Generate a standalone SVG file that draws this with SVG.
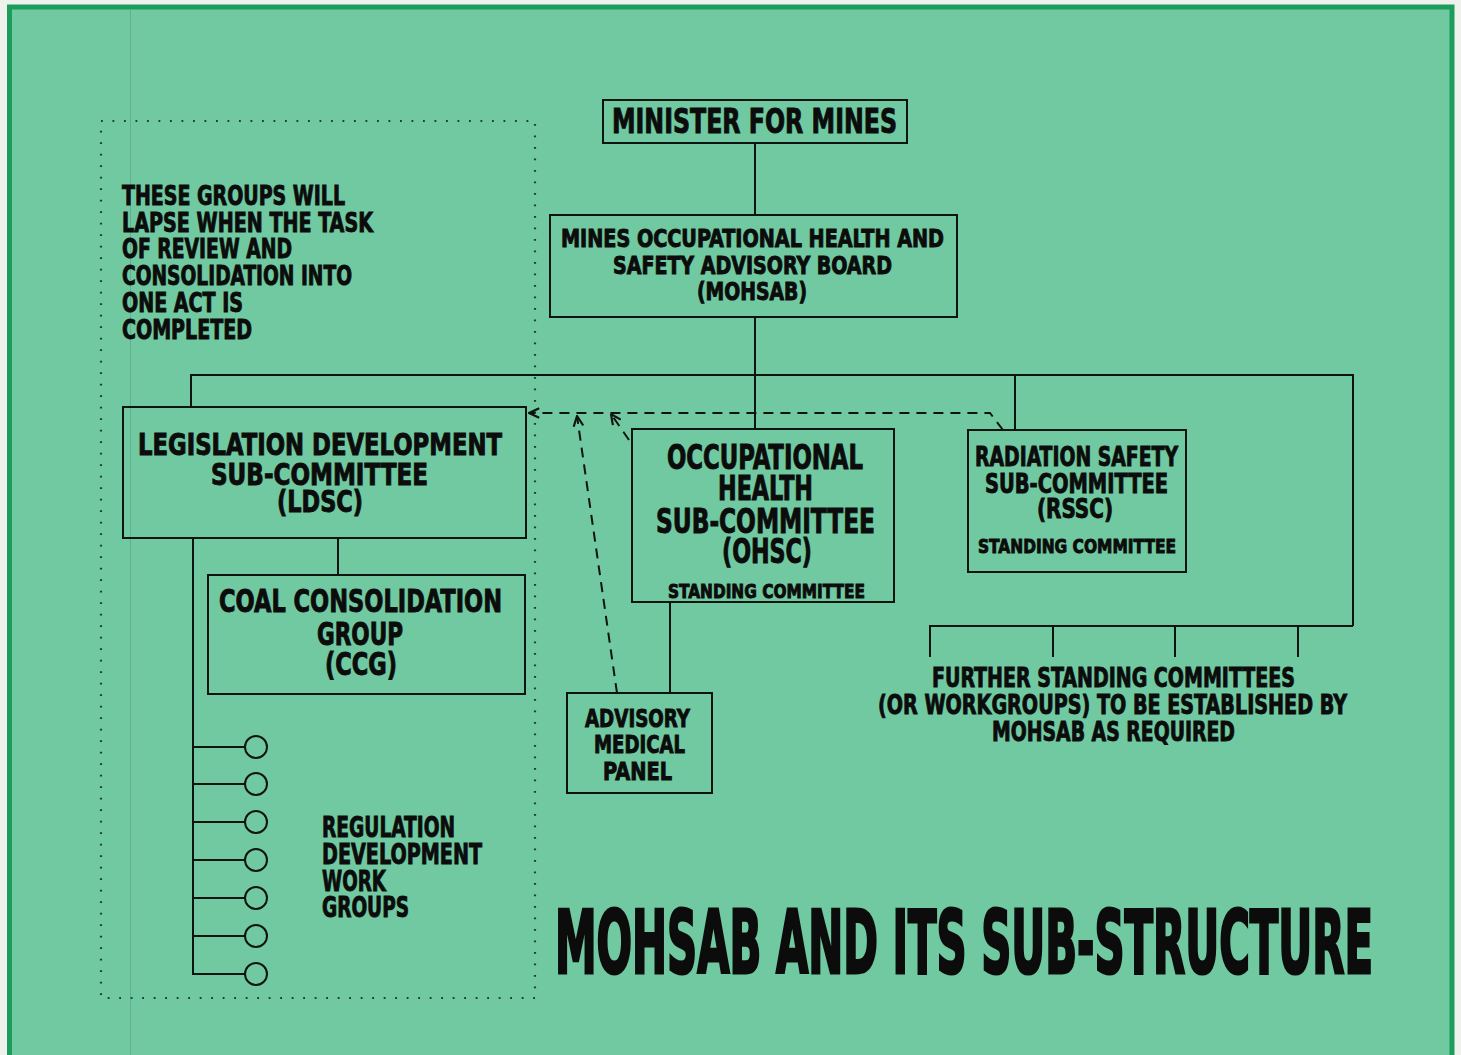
<svg xmlns="http://www.w3.org/2000/svg" width="1461" height="1055" viewBox="0 0 1461 1055">
<defs>
<style>
.t{font-family:"Liberation Sans Narrow","DejaVu Sans Condensed","Liberation Sans",Arial,sans-serif;font-weight:bold;fill:#0b0c0b;stroke:#0b0c0b;stroke-width:0.9;}
.box{fill:none;stroke:#101410;stroke-width:2;}
.ln{fill:none;stroke:#101410;stroke-width:2;}
.dash{fill:none;stroke:#101410;stroke-width:2;stroke-dasharray:10 7;}
.dot{fill:none;stroke:#1f3d30;stroke-width:2.2;stroke-dasharray:1.8 9.7;}
.wg{fill:none;stroke:#101410;stroke-width:2;}
</style>
<marker id="arr" viewBox="0 0 10 10" refX="9.5" refY="5" markerWidth="12" markerHeight="12" markerUnits="userSpaceOnUse" orient="auto">
<path d="M1,1 L9.5,5 L1,9" fill="none" stroke="#101410" stroke-width="1.8"/>
</marker>
</defs>
<rect x="0" y="0" width="1461" height="1055" fill="#eef1ec"/>
<rect x="9.5" y="7" width="1442.5" height="1070" fill="#70c9a0" stroke="#1c9d5c" stroke-width="5"/>
<line x1="130.5" y1="10" x2="130.5" y2="1055" stroke="#5a9f85" stroke-width="1" opacity="0.6"/>

<g id="lapse-zone">
<rect class="dot" x="101" y="121" width="434" height="877"/>
<text class="t" font-size="27" x="122" y="205" textLength="223" lengthAdjust="spacingAndGlyphs">THESE GROUPS WILL</text>
<text class="t" font-size="27" x="122" y="232" textLength="251" lengthAdjust="spacingAndGlyphs">LAPSE WHEN THE TASK</text>
<text class="t" font-size="27" x="122" y="258" textLength="170" lengthAdjust="spacingAndGlyphs">OF REVIEW AND</text>
<text class="t" font-size="27" x="122" y="285" textLength="230" lengthAdjust="spacingAndGlyphs">CONSOLIDATION INTO</text>
<text class="t" font-size="27" x="122" y="312" textLength="121" lengthAdjust="spacingAndGlyphs">ONE ACT IS</text>
<text class="t" font-size="27" x="122" y="339" textLength="130" lengthAdjust="spacingAndGlyphs">COMPLETED</text>
</g>

<g id="connectors">
<path class="ln" d="M755,143 V215"/>
<path class="ln" d="M755,317 V430"/>
<path class="ln" d="M191,407 V375 H1353 V626"/>
<path class="ln" d="M1015,375 V430"/>
<path class="ln" d="M930,657 V626 H1353"/>
<path class="ln" d="M1053,626 V657 M1175,626 V657 M1298,626 V657"/>
<path class="ln" d="M338,538 V575"/>
<path class="ln" d="M670,602 V693"/>
<path class="ln" d="M193,538 V975 M193,747 H245 M193,784 H245 M193,822 H245 M193,860 H245 M193,898 H245 M193,936 H245 M193,974 H245"/>
<path class="dash" d="M1003,430 L990,413 L529,413" marker-end="url(#arr)"/>
<path class="dash" d="M617,693 L577,416" marker-end="url(#arr)"/>
<path class="dash" d="M629,440 L611,414" marker-end="url(#arr)"/>
</g>

<g id="minister">
<rect class="box" x="603" y="100" width="304" height="43"/>
<text class="t" font-size="34" x="612" y="133" textLength="285" lengthAdjust="spacingAndGlyphs">MINISTER FOR MINES</text>
</g>

<g id="mohsab">
<rect class="box" x="550" y="215" width="407" height="102"/>
<text class="t" font-size="24" x="561" y="247" textLength="383" lengthAdjust="spacingAndGlyphs">MINES OCCUPATIONAL HEALTH AND</text>
<text class="t" font-size="24" x="613" y="274" textLength="279" lengthAdjust="spacingAndGlyphs">SAFETY ADVISORY BOARD</text>
<text class="t" font-size="24" x="697" y="300" textLength="110" lengthAdjust="spacingAndGlyphs">(MOHSAB)</text>
</g>

<g id="ldsc">
<rect class="box" x="123" y="407" width="403" height="131"/>
<text class="t" font-size="30" x="138" y="455" textLength="364" lengthAdjust="spacingAndGlyphs">LEGISLATION DEVELOPMENT</text>
<text class="t" font-size="30" x="211" y="485" textLength="217" lengthAdjust="spacingAndGlyphs">SUB-COMMITTEE</text>
<text class="t" font-size="30" x="277" y="512" textLength="86" lengthAdjust="spacingAndGlyphs">(LDSC)</text>
</g>

<g id="ccg">
<rect class="box" x="208" y="575" width="317" height="119"/>
<text class="t" font-size="32" x="219" y="612" textLength="283" lengthAdjust="spacingAndGlyphs">COAL CONSOLIDATION</text>
<text class="t" font-size="32" x="317" y="645" textLength="86" lengthAdjust="spacingAndGlyphs">GROUP</text>
<text class="t" font-size="32" x="325" y="675" textLength="72" lengthAdjust="spacingAndGlyphs">(CCG)</text>
</g>

<g id="work-groups">
<circle class="wg" cx="256" cy="747" r="11"/>
<circle class="wg" cx="256" cy="784" r="11"/>
<circle class="wg" cx="256" cy="822" r="11"/>
<circle class="wg" cx="256" cy="860" r="11"/>
<circle class="wg" cx="256" cy="898" r="11"/>
<circle class="wg" cx="256" cy="936" r="11"/>
<circle class="wg" cx="256" cy="974" r="11"/>
<text class="t" font-size="29" x="322" y="837" textLength="133" lengthAdjust="spacingAndGlyphs">REGULATION</text>
<text class="t" font-size="29" x="322" y="864" textLength="160" lengthAdjust="spacingAndGlyphs">DEVELOPMENT</text>
<text class="t" font-size="29" x="322" y="891" textLength="64" lengthAdjust="spacingAndGlyphs">WORK</text>
<text class="t" font-size="29" x="322" y="917" textLength="87" lengthAdjust="spacingAndGlyphs">GROUPS</text>
</g>

<g id="ohsc">
<rect class="box" x="632" y="429" width="262" height="173"/>
<text class="t" font-size="33" x="667" y="469" textLength="196" lengthAdjust="spacingAndGlyphs">OCCUPATIONAL</text>
<text class="t" font-size="33" x="718" y="500" textLength="95" lengthAdjust="spacingAndGlyphs">HEALTH</text>
<text class="t" font-size="33" x="656" y="533" textLength="219" lengthAdjust="spacingAndGlyphs">SUB-COMMITTEE</text>
<text class="t" font-size="33" x="722" y="563" textLength="90" lengthAdjust="spacingAndGlyphs">(OHSC)</text>
<text class="t" font-size="20" x="668" y="598" textLength="197" lengthAdjust="spacingAndGlyphs">STANDING COMMITTEE</text>
</g>

<g id="rssc">
<rect class="box" x="968" y="430" width="218" height="142"/>
<text class="t" font-size="27" x="975" y="466" textLength="203" lengthAdjust="spacingAndGlyphs">RADIATION SAFETY</text>
<text class="t" font-size="27" x="985" y="493" textLength="183" lengthAdjust="spacingAndGlyphs">SUB-COMMITTEE</text>
<text class="t" font-size="27" x="1037" y="518" textLength="76" lengthAdjust="spacingAndGlyphs">(RSSC)</text>
<text class="t" font-size="20" x="978" y="553" textLength="198" lengthAdjust="spacingAndGlyphs">STANDING COMMITTEE</text>
</g>

<g id="amp">
<rect class="box" x="567" y="693" width="145" height="100"/>
<text class="t" font-size="25" x="585" y="727" textLength="105" lengthAdjust="spacingAndGlyphs">ADVISORY</text>
<text class="t" font-size="25" x="594" y="753" textLength="91" lengthAdjust="spacingAndGlyphs">MEDICAL</text>
<text class="t" font-size="25" x="603" y="780" textLength="69" lengthAdjust="spacingAndGlyphs">PANEL</text>
</g>

<g id="further">
<text class="t" font-size="27" x="932" y="687" textLength="363" lengthAdjust="spacingAndGlyphs">FURTHER STANDING COMMITTEES</text>
<text class="t" font-size="27" x="878" y="714" textLength="469" lengthAdjust="spacingAndGlyphs">(OR WORKGROUPS) TO BE ESTABLISHED BY</text>
<text class="t" font-size="27" x="992" y="741" textLength="243" lengthAdjust="spacingAndGlyphs">MOHSAB AS REQUIRED</text>
</g>

<g id="title">
<text class="t" font-size="88" x="555" y="973" textLength="818" lengthAdjust="spacingAndGlyphs" style="stroke-width:3">MOHSAB AND ITS SUB-STRUCTURE</text>
</g>
</svg>
